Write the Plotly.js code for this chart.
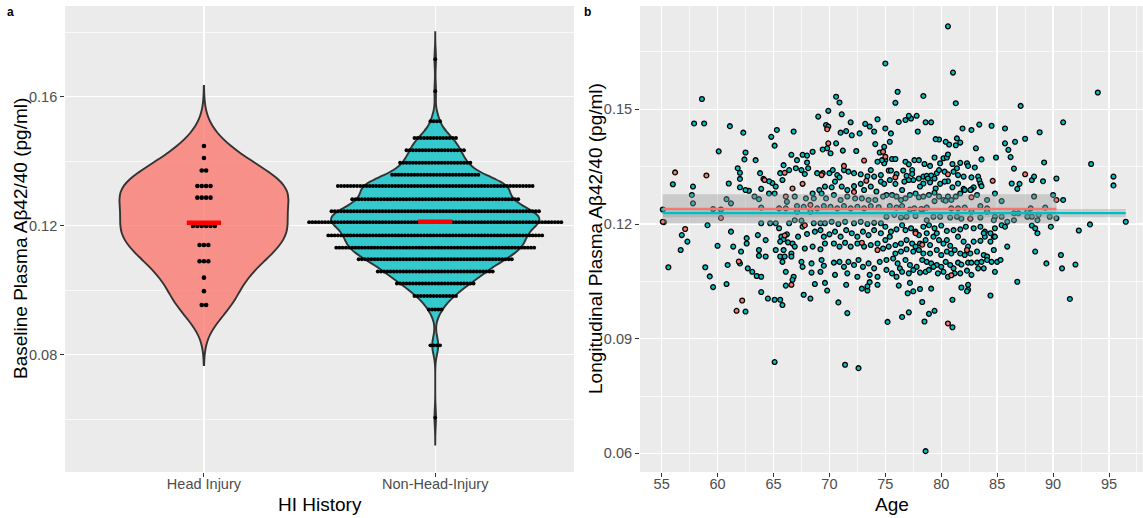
<!DOCTYPE html>
<html><head><meta charset="utf-8">
<script src="https://cdn.plot.ly/plotly-3.0.1.min.js"></script>
<style>html,body{margin:0;padding:0;background:#fff}</style>
</head><body><div id="chart" style="width:1143px;height:518px"></div>
<script>
// ---------- Panel a: baseline dot plot ----------
const categories = ['Head Injury', 'Non-Head-Injury'];
const headLevels = [0.1447, 0.1410, 0.1371, 0.1323, 0.1287, 0.1199, 0.1140, 0.1090, 0.1039, 0.0997, 0.0954];
const headCounts = [1, 1, 2, 4, 4, 6, 3, 3, 1, 1, 2];
const nonHeadLevels = [0.1716, 0.1617, 0.1524, 0.1472, 0.1434, 0.1395, 0.1358, 0.1323, 0.1282, 0.1245, 0.1211, 0.1170, 0.1132, 0.1096, 0.1058, 0.1021, 0.0982, 0.0940, 0.0829, 0.0605];
const nonHeadCounts = [1, 1, 4, 14, 19, 23, 28, 62, 53, 66, 80, 68, 63, 49, 37, 25, 14, 5, 4, 1];

// ---------- Panel b: longitudinal vs age ----------
const hiPoints = [[55.1,0.1206],[56.2,0.1335],[59.0,0.1327],[57.1,0.1187],[60.3,0.1216],[64.2,0.1315],[66.0,0.1334],[66.1,0.1272],[66.7,0.1293],[67.6,0.1305],[68.3,0.125],[67.8,0.1197],[69.8,0.1448],[69.9,0.1411],[71.3,0.1352],[69.3,0.1328],[73.1,0.1366],[73.3,0.1313],[72.2,0.1284],[66.0,0.117],[72.9,0.1151],[74.3,0.1132],[75.0,0.1376],[66.6,0.1041],[62.2,0.1],[61.7,0.0973],[61.9,0.1102],[74.8,0.1389],[75.9,0.1322],[80.6,0.133],[84.6,0.1313],[87.5,0.133],[90.3,0.1263],[82.7,0.127],[78.2,0.1239],[82.6,0.1214],[77.7,0.1176],[78.3,0.1146],[82.3,0.1132],[80.9,0.1066],[80.6,0.094]];
const nonHiPoints = [
[76.1,0.1546],[75.9,0.1517],[78.4,0.1535],[81.3,0.1516],[87.1,0.1509],[94.0,0.1544],[90.9,0.1466],[93.4,0.1357],[95.4,0.1324],[95.4,0.1301],[96.5,0.1206],[93.3,0.1199],[92.3,0.1183],[89.8,0.1193],[90.9,0.1263],[90.3,0.1319],[89.2,0.1361],[88.8,0.144],[87.5,0.1423],[86.6,0.1415],[85.7,0.145],[85.7,0.1411],[86.0,0.1394],[86.2,0.1375],[86.5,0.1345],[84.9,0.1374],[84.5,0.1457],[83.4,0.146],[82.7,0.1446],[81.9,0.145],[81.4,0.1424],[81.7,0.1413],[81.3,0.1406],[80.7,0.1408],[80.4,0.1415],[79.8,0.1421],[79.5,0.1422],[78.6,0.1466],[79.1,0.1466],[77.9,0.1442],[77.8,0.1483],[77.3,0.1476],[77.1,0.1483],[76.8,0.1472],[76.2,0.1467],[75.5,0.1437],[75.4,0.1415],[75.0,0.145],
[75.0,0.1367],[75.6,0.137],[75.9,0.137],[76.8,0.1363],[77.1,0.1356],[77.6,0.1367],[78.0,0.1367],[78.5,0.1357],[79.0,0.1352],[79.4,0.1374],[79.9,0.1359],[80.2,0.1372],[80.5,0.1374],[80.6,0.1382],[81.0,0.1357],[81.4,0.1346],[81.7,0.136],[82.3,0.1359],[83.0,0.1348],[83.1,0.1398],[83.6,0.1369],
[75.3,0.134],[75.5,0.134],[76.0,0.1331],[76.6,0.134],[76.9,0.1326],[77.4,0.1341],[77.4,0.1331],[78.0,0.1319],[78.4,0.1324],[78.7,0.1326],[79.1,0.1327],[79.4,0.1319],[79.6,0.1333],[79.8,0.1341],[80.3,0.1337],[81.1,0.1337],[81.5,0.1328],[82.0,0.1324],[82.4,0.1352],[82.7,0.1322],[83.3,0.1324],[83.4,0.1315],[83.5,0.1306],[83.6,0.1299],[82.9,0.1296],[82.7,0.1291],[82.0,0.1292],[81.5,0.1306],[81.0,0.1296],[80.6,0.1312],[80.3,0.1311],[79.9,0.1305],[79.5,0.1293],[79.0,0.1309],[78.8,0.1319],[78.4,0.1306],[78.1,0.1298],[77.5,0.1315],[77.1,0.1315],[76.7,0.1311],[76.5,0.1289],[75.9,0.1305],[75.4,0.1315],
[75.1,0.1276],[75.6,0.1276],[76.0,0.1272],[76.4,0.1263],[76.8,0.1267],[77.2,0.1276],[77.7,0.128],[78.0,0.127],[78.4,0.1272],[78.9,0.1276],[79.4,0.1282],[79.8,0.1272],[80.2,0.1263],[80.6,0.1272],[80.9,0.1263],[81.3,0.1272],[81.7,0.128],[82.1,0.1289],[82.6,0.1289],[83.2,0.1276],[84.1,0.1263],[84.8,0.128],[85.4,0.126],[86.3,0.1306],[86.8,0.1292],[87.0,0.1305],[88.3,0.1272],[88.0,0.1241],[88.1,0.1315],[88.3,0.1324],[89.1,0.1312],[90.0,0.1276],[86.5,0.1228],
[75.4,0.1247],[76.0,0.1243],[76.5,0.1247],[77.2,0.1238],[77.6,0.1241],[78.3,0.1238],[78.7,0.1243],[79.4,0.126],[80.4,0.1261],[80.9,0.1241],[81.5,0.1241],[82.1,0.1243],[82.7,0.1232],[83.5,0.1247],[84.1,0.1241],[84.8,0.1219],[85.4,0.1219],[86.9,0.1228],[87.7,0.1232],[89.3,0.1243],[88.1,0.1219],[88.7,0.1224],[89.7,0.1219],
[75.1,0.1219],[75.8,0.1224],[76.4,0.1217],[76.9,0.1219],[77.7,0.1221],[78.7,0.121],[79.3,0.1219],[79.9,0.1219],[80.8,0.1217],[81.4,0.1219],[81.8,0.1214],[82.6,0.1214],[83.5,0.1217],[84.1,0.1232],[84.7,0.121],[85.9,0.1206],[86.5,0.121],[87.7,0.1219],[88.6,0.121],[88.1,0.1196],[88.4,0.1189],[88.6,0.1176],
[75.0,0.1193],[75.5,0.118],[76.0,0.1186],[76.5,0.1197],[76.8,0.1184],[77.3,0.1189],[77.7,0.118],[78.4,0.1193],[78.9,0.1197],[79.4,0.1189],[80.0,0.1196],[80.5,0.1182],[81.1,0.1184],[81.7,0.1186],[82.2,0.1193],[82.9,0.1189],[83.5,0.1193],[83.9,0.118],[84.4,0.1176],[84.7,0.1167],[85.4,0.1197],[85.7,0.1193],[84.8,0.1189],
[75.4,0.1167],[75.0,0.1158],[75.3,0.1141],[75.9,0.1145],[76.4,0.1149],[76.9,0.1158],[77.4,0.1149],[77.7,0.1141],[78.1,0.1149],[78.6,0.1158],[79.0,0.1145],[79.3,0.1167],[79.8,0.1158],[80.2,0.1149],[80.5,0.1158],[80.8,0.1143],[81.5,0.1167],[82.0,0.1154],[82.4,0.1141],[82.9,0.1154],[83.5,0.1156],[83.9,0.1167],[84.4,0.1154],[84.8,0.1167],[83.8,0.1176],[79.6,0.1176],[78.7,0.1176],[78.0,0.1171],
[75.9,0.1123],[76.4,0.1128],[76.9,0.1134],[77.5,0.1128],[78.0,0.1132],[78.4,0.1123],[79.0,0.1123],[79.6,0.1132],[80.0,0.1119],[80.5,0.1128],[80.9,0.1123],[81.2,0.1132],[81.7,0.1123],[82.1,0.1119],[82.6,0.1123],[83.2,0.1128],[83.8,0.1119],[84.1,0.1115],[84.7,0.1132],[85.9,0.1141],
[75.1,0.1106],[75.7,0.111],[76.1,0.1097],[76.3,0.1084],[76.8,0.1106],[77.2,0.1093],[77.8,0.1088],[78.3,0.1106],[78.7,0.1101],[79.1,0.1097],[79.6,0.1093],[80.0,0.1088],[80.4,0.1101],[80.8,0.1093],[81.1,0.1084],[81.5,0.1099],[81.8,0.1094],[82.4,0.1099],[82.7,0.1099],[83.2,0.1099],[83.6,0.1101],[84.1,0.1106],[84.5,0.1101],[85.0,0.1101],[85.3,0.1106],
[75.1,0.108],[75.6,0.1071],[76.0,0.1062],[76.5,0.1075],[77.1,0.1071],[77.5,0.108],[78.1,0.1073],[78.6,0.1075],[78.9,0.108],[79.3,0.1088],[79.7,0.1071],[80.2,0.1075],[80.6,0.1062],[81.2,0.1071],[81.7,0.1071],[82.3,0.1078],[82.7,0.1067],[83.3,0.1084],[83.8,0.1084],[84.8,0.1075],
[88.4,0.1128],[89.4,0.1097],[90.7,0.1119],[90.8,0.1084],[92.0,0.1094],[90.3,0.1215],
[86.8,0.1049],[84.4,0.1013],[91.5,0.1004],[76.2,0.1039],[77.2,0.1046],[78.1,0.103],[79.1,0.1031],[77.5,0.1024],[77.0,0.1019],[81.8,0.1034],[82.4,0.1041],[82.4,0.1028],[82.3,0.1024],[81.0,0.1002],[78.3,0.0996],[79.4,0.0973],[78.9,0.0965],[77.1,0.0969],[76.5,0.0957],[75.2,0.0944],[78.5,0.0945],[81.0,0.093],[78.6,0.0606],
[80.6,0.1717],[75.0,0.162],[81.05,0.1596],
[58.6,0.1527],[57.9,0.1463],[58.8,0.1463],[61.1,0.1456],[62.3,0.1439],[64.8,0.1428],[65.3,0.1446],[66.8,0.1442],[60.1,0.139],[65.1,0.1405],[70.6,0.1533],[70.9,0.1518],[69.0,0.1481],[69.9,0.1496],[71.1,0.1487],[69.7,0.1459],[69.9,0.1455],[71.9,0.1466],[71.0,0.1439],[71.5,0.1443],[72.0,0.1432],[73.2,0.1462],[73.6,0.1455],[74.0,0.1442],[74.3,0.1474],[72.7,0.1437],[74.1,0.1409],[74.9,0.1402],[74.5,0.1387],
[69.8,0.1398],[70.6,0.1411],[69.4,0.1395],[71.2,0.1392],[72.4,0.1391],[70.1,0.1385],[68.5,0.1389],[66.6,0.1381],[67.6,0.1381],[68.0,0.1379],[67.1,0.1367],[68.0,0.1361],[65.9,0.1354],[66.4,0.1341],[67.0,0.1346],[67.5,0.1341],[68.1,0.1346],[67.8,0.1331],[65.6,0.1333],[65.8,0.1315],[68.9,0.1333],[69.4,0.1333],[70.0,0.1333],[70.3,0.1341],[70.7,0.1328],[70.9,0.1322],[71.3,0.1341],[71.7,0.1337],[72.2,0.1333],[72.8,0.133],[73.4,0.1325],[73.7,0.1341],[74.0,0.1324],[74.6,0.1328],[74.9,0.1359],[74.7,0.1367],[74.3,0.1363],
[74.6,0.1311],[74.9,0.1305],[74.8,0.1272],[74.2,0.1285],[73.7,0.1298],[73.1,0.1289],[72.8,0.1305],[72.2,0.1299],[71.6,0.1289],[71.1,0.1298],[70.5,0.1311],[70.2,0.1296],[69.6,0.1298],[69.1,0.1289],[68.5,0.128],[67.9,0.1267],[68.6,0.1267],[69.3,0.128],[69.7,0.1267],[70.4,0.1276],[71.0,0.1263],[71.6,0.1272],[72.3,0.1267],[72.9,0.1267],[73.5,0.1263],[74.1,0.1263],[66.9,0.1272],[66.2,0.1258],[66.1,0.1241],[65.5,0.1241],
[67.1,0.1247],[67.1,0.1232],[67.7,0.1245],[68.3,0.1232],[68.9,0.1241],[69.5,0.1247],[70.1,0.1245],[70.7,0.1241],[71.3,0.1247],[71.9,0.1241],[72.5,0.1245],[73.1,0.1241],[73.7,0.1247],[74.4,0.1244],
[65.2,0.1298],[65.1,0.128],[64.6,0.128],[64.9,0.1307],[64.6,0.1312],[64.1,0.1318],[63.9,0.1292],[63.8,0.1333],[63.4,0.1367],[63.7,0.1265],[63.3,0.1272],[62.8,0.1287],[62.5,0.1289],[62.0,0.1296],[62.0,0.1318],[62.0,0.1334],[61.8,0.1346],[62.5,0.1387],[62.4,0.1369],[61.0,0.1306],[60.8,0.1265],[61.2,0.1254],[60.3,0.1238],[59.6,0.1239],[59.1,0.1197],[57.8,0.1298],[57.7,0.1276],[57.8,0.1254],[56.0,0.1304],[55.1,0.1238],[55.2,0.1205],[56.8,0.1171],[57.3,0.1154],[56.7,0.1132],
[63.9,0.1243],[63.9,0.1202],[64.7,0.1202],[65.2,0.1202],[66.4,0.1202],[66.9,0.121],[67.5,0.1209],[68.6,0.1202],[69.2,0.1202],[69.6,0.1202],[70.2,0.1206],[70.8,0.12],[71.4,0.1206],[72.2,0.1202],[72.8,0.1206],[73.4,0.12],[74.0,0.1203],[74.6,0.1202],
[61.2,0.118],[60.0,0.1143],[62.6,0.1163],[62.6,0.1149],[63.6,0.1171],[64.3,0.1158],[65.5,0.1189],[65.7,0.1167],[65.9,0.116],[66.2,0.1173],[65.6,0.1154],[66.3,0.1152],[66.7,0.1149],[67.2,0.1167],[67.6,0.1193],[68.0,0.1174],[68.7,0.118],[69.2,0.1184],[69.5,0.1167],[70.0,0.1173],[69.6,0.1149],[69.2,0.1134],[68.5,0.1141],[67.8,0.1136],[66.9,0.1141],[65.9,0.1132],[66.6,0.1123],
[70.5,0.118],[71.0,0.1167],[71.5,0.1184],[72.0,0.1176],[72.5,0.1167],[73.0,0.118],[73.5,0.1171],[74.0,0.1184],[74.6,0.1176],[70.4,0.1149],[70.9,0.1141],[71.4,0.1151],[71.9,0.1141],[72.5,0.1149],[73.1,0.1141],[73.7,0.1145],[74.3,0.1149],[74.8,0.1136],
[62.1,0.1128],[61.4,0.1141],[63.7,0.1117],[65.2,0.1132],[60.9,0.1093],[62.0,0.1097],[62.7,0.1084],[63.1,0.1075],[63.5,0.1064],[63.9,0.1062],[63.7,0.1132],[64.3,0.1115],[65.6,0.1115],[65.8,0.1101],[66.0,0.1115],[66.6,0.1115],[67.5,0.1101],[67.6,0.1088],[68.4,0.1097],[69.3,0.1106],[69.5,0.1091],[70.4,0.1099],[70.9,0.1101],[71.3,0.1088],[71.7,0.1101],[72.2,0.1093],[72.6,0.1106],[73.0,0.1088],[73.5,0.1097],[74.0,0.1084],[74.5,0.1101],
[68.4,0.1073],[69.2,0.1075],[70.5,0.1067],[71.6,0.1071],[72.5,0.1062],[73.6,0.1067],[74.3,0.1062],[66.1,0.1075],[66.8,0.1062],
[55.6,0.1087],[58.9,0.1087],[59.3,0.1063],[59.6,0.1035],[60.8,0.1043],[66.7,0.1054],[66.1,0.1039],[68.7,0.1043],[67.7,0.1015],[68.3,0.1005],[69.6,0.1046],[69.8,0.1026],[63.9,0.1022],[64.5,0.1005],[62.5,0.0971],[65.1,0.1002],[65.6,0.1002],[65.8,0.0988],[65.1,0.0839],[70.8,0.0995],[71.6,0.0967],[71.4,0.0832],[72.6,0.0823],[72.9,0.1031],[73.4,0.1026],[73.4,0.1037],[74.3,0.1041],[73.6,0.1048],[71.5,0.1041]
];

// ---------- colours / styles ----------
const RED = '#F8766D', TEAL = '#00BFC4';
const VIOLIN_FILL = ['rgba(248,118,109,0.78)', 'rgba(0,191,196,0.78)'];
const VIOLIN_WIDTH = [0.73, 0.9];
const DOT_STEP = [0.0190, 0.0138];   // stack spacing (x data units)
const DOT_SIZE = [4.6, 3.9];
const MEAN_HALF = 0.074;

// ---------- helpers ----------
function expand(levels, counts) { const o = []; levels.forEach((v, i) => { for (let k = 0; k < counts[i]; k++) o.push(v); }); return o; }
function q7(s, p) { const h = (s.length - 1) * p, lo = Math.floor(h), hi = Math.min(lo + 1, s.length - 1); return s[lo] + (h - lo) * (s[hi] - s[lo]); }
function mean(a) { return a.reduce((x, y) => x + y, 0) / a.length; }
function nrd0(a) {
  const n = a.length, m = mean(a);
  const sd = Math.sqrt(a.reduce((s, v) => s + (v - m) * (v - m), 0) / (n - 1));
  const s = a.slice().sort((x, y) => x - y);
  const iqr = q7(s, 0.75) - q7(s, 0.25);
  return 0.9 * Math.min(sd, iqr / 1.34) * Math.pow(n, -0.2);
}

const traces = [];
const groups = [[headLevels, headCounts], [nonHeadLevels, nonHeadCounts]];
groups.forEach(([lv, ct], gi) => {
  const data = expand(lv, ct);
  const bw = nrd0(data);
  traces.push({
    type: 'violin', x0: gi + 1, y: data, xaxis: 'x', yaxis: 'y',
    bandwidth: bw, spanmode: 'manual', span: [Math.min(...data) - 3 * bw, Math.max(...data) + 3 * bw],
    scalemode: 'width', width: VIOLIN_WIDTH[gi], points: false,
    box: { visible: false }, meanline: { visible: false },
    fillcolor: VIOLIN_FILL[gi], line: { color: '#333333', width: 1.9 },
    hoverinfo: 'skip', showlegend: false
  });
});
groups.forEach(([lv, ct], gi) => {
  const xs = [], ys = [];
  lv.forEach((v, i) => {
    const n = ct[i];
    for (let k = 0; k < n; k++) { xs.push(gi + 1 + (k - (n - 1) / 2) * DOT_STEP[gi]); ys.push(v); }
  });
  traces.push({ type: 'scatter', mode: 'markers', x: xs, y: ys, xaxis: 'x', yaxis: 'y',
    marker: { color: '#000000', size: DOT_SIZE[gi], line: { width: 0 } }, hoverinfo: 'skip', showlegend: false });
});
groups.forEach(([lv, ct], gi) => {
  const m = mean(expand(lv, ct));
  traces.push({ type: 'scatter', mode: 'lines', x: [gi + 1 - MEAN_HALF, gi + 1 + MEAN_HALF], y: [m, m], xaxis: 'x', yaxis: 'y',
    line: { color: '#FF0000', width: 4.5 }, hoverinfo: 'skip', showlegend: false });
});

// panel b points
[[nonHiPoints, TEAL], [hiPoints, RED]].forEach(([pts, col]) => {
  traces.push({ type: 'scatter', mode: 'markers', x: pts.map(p => p[0]), y: pts.map(p => p[1]), xaxis: 'x2', yaxis: 'y2',
    marker: { color: col, size: 4.8, line: { color: '#000000', width: 1.3 } }, hoverinfo: 'skip', showlegend: false });
});

// intercept-only fit (group mean) with 95% CI over each group's age range
function meanFitTraces(pts, col) {
  const n = pts.length, xs = pts.map(p => p[0]), ys = pts.map(p => p[1]);
  const my = mean(ys);
  const s = Math.sqrt(ys.reduce((a, v) => a + (v - my) ** 2, 0) / (n - 1));
  const df = n - 1, t = 1.96 + 2.4 / df + 3 / (df * df);
  const half = t * s / Math.sqrt(n);
  const lo = Math.min(...xs), hi = Math.max(...xs);
  return [
    { type: 'scatter', mode: 'lines', x: [lo, hi, hi, lo], y: [my + half, my + half, my - half, my - half], xaxis: 'x2', yaxis: 'y2',
      fill: 'toself', fillcolor: 'rgba(153,153,153,0.4)', line: { width: 0 }, hoverinfo: 'skip', showlegend: false },
    { type: 'scatter', mode: 'lines', x: [lo, hi], y: [my, my], xaxis: 'x2', yaxis: 'y2', line: { color: col, width: 2.2 }, hoverinfo: 'skip', showlegend: false }
  ];
}
traces.push(...meanFitTraces(hiPoints, RED), ...meanFitTraces(nonHiPoints, TEAL));

const tickFont = { family: 'Liberation Sans, Arial, sans-serif', size: 14.5, color: '#4D4D4D' };
const gridCommon = { showgrid: true, gridcolor: '#FFFFFF', gridwidth: 1.4, zeroline: false, showline: false,
  ticks: 'outside', ticklen: 4, tickwidth: 1, tickcolor: '#333333', tickfont: tickFont, fixedrange: true };
const minorGrid = { showgrid: true, gridcolor: '#FFFFFF', gridwidth: 0.7, ticks: '' };
const yDom = [0.0888, 0.9884];

const layout = {
  width: 1143, height: 518, margin: { l: 0, r: 0, t: 0, b: 0 },
  paper_bgcolor: '#FFFFFF', plot_bgcolor: '#EBEBEB', showlegend: false,
  font: { family: 'Liberation Sans, Arial, sans-serif', color: '#000000' },
  xaxis: Object.assign({}, gridCommon, { domain: [0.0570, 0.5022], range: [0.4, 2.6], type: 'linear',
    tickmode: 'array', tickvals: [1, 2], ticktext: categories, anchor: 'y', ticklabelstandoff: -5 }),
  yaxis: Object.assign({}, gridCommon, { domain: yDom, range: [0.04363, 0.18812], tick0: 0, dtick: 0.04, tickformat: '.2f',
    minor: Object.assign({ tick0: 0, dtick: 0.02 }, minorGrid), anchor: 'x' }),
  xaxis2: Object.assign({}, gridCommon, { domain: [0.5599, 1], range: [53.06, 98.04], tick0: 0, dtick: 5,
    minor: Object.assign({ tick0: 0, dtick: 2.5 }, minorGrid), anchor: 'y2', ticklabelstandoff: -5 }),
  yaxis2: Object.assign({}, gridCommon, { domain: yDom, range: [0.05514, 0.17702], tick0: 0, dtick: 0.03, tickformat: '.2f',
    minor: Object.assign({ tick0: 0, dtick: 0.015 }, minorGrid), anchor: 'x2' }),
  annotations: [
    { text: '<b>a</b>', x: 10 / 1143, y: 1 - 12 / 518, xref: 'paper', yref: 'paper', showarrow: false, xanchor: 'center', yanchor: 'middle', font: { size: 12 } },
    { text: '<b>b</b>', x: 587 / 1143, y: 1 - 12 / 518, xref: 'paper', yref: 'paper', showarrow: false, xanchor: 'center', yanchor: 'middle', font: { size: 12 } },
    { text: 'Baseline Plasma Aβ42/40 (pg/ml)', x: 20 / 1143, y: 1 - 239 / 518, xref: 'paper', yref: 'paper', textangle: -90, showarrow: false, xanchor: 'center', yanchor: 'middle', font: { size: 19 } },
    { text: 'Longitudinal Plasma Aβ42/40 (pg/ml)', x: 595 / 1143, y: 1 - 239 / 518, xref: 'paper', yref: 'paper', textangle: -90, showarrow: false, xanchor: 'center', yanchor: 'middle', font: { size: 19 } },
    { text: 'HI History', x: 319.5 / 1143, y: 1 - 504 / 518, xref: 'paper', yref: 'paper', showarrow: false, xanchor: 'center', yanchor: 'middle', font: { size: 19 } },
    { text: 'Age', x: 891.5 / 1143, y: 1 - 504 / 518, xref: 'paper', yref: 'paper', showarrow: false, xanchor: 'center', yanchor: 'middle', font: { size: 19 } }
  ]
};
Plotly.newPlot('chart', traces, layout, { staticPlot: true, displayModeBar: false });
</script></body></html>
